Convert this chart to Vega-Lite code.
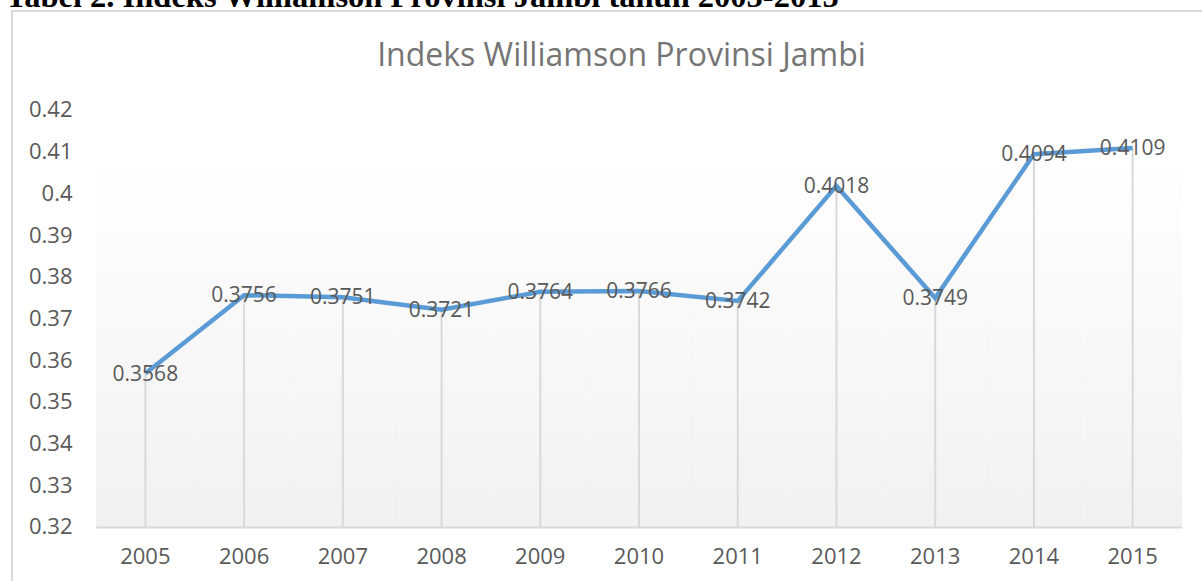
{
  "$schema": "https://vega.github.io/schema/vega-lite/v6.json",
  "width": 1218,
  "height": 600,
  "autosize": {"type": "none"},
  "padding": {"left": 12, "top": 11, "right": 0, "bottom": 0},
  "background": "white",
  "config": {"view": {"stroke": "#D9D9D9", "strokeWidth": 2}},
  "data": {
    "values": [
      {"year": "2005", "value": 0.3568},
      {"year": "2006", "value": 0.3756},
      {"year": "2007", "value": 0.3751},
      {"year": "2008", "value": 0.3721},
      {"year": "2009", "value": 0.3764},
      {"year": "2010", "value": 0.3766},
      {"year": "2011", "value": 0.3742},
      {"year": "2012", "value": 0.4018},
      {"year": "2013", "value": 0.3749},
      {"year": "2014", "value": 0.4094},
      {"year": "2015", "value": 0.4109}
    ]
  },
  "encoding": {
    "x": {
      "field": "year",
      "type": "ordinal",
      "title": "Tabel 2. Indeks Williamson Provinsi Jambi tahun 2005-2015",
      "scale": {"type": "band", "range": [84, 1170], "paddingInner": 0, "paddingOuter": 0},
      "axis": {
        "orient": "bottom",
        "offset": -84,
        "title": "Tabel 2. Indeks Williamson Provinsi Jambi tahun 2005-2015",
        "titleFont": "Liberation Serif",
        "titleFontSize": 32.5,
        "titleFontWeight": "bold",
        "titleColor": "#000000",
        "titleX": -7,
        "titleY": -521,
        "titleAlign": "left",
        "titleAnchor": "start",
        "titleBaseline": "alphabetic",
        "labelAngle": 0,
        "labelPadding": 19,
        "ticks": false,
        "tickSize": 0,
        "grid": false,
        "domainColor": "#D9D9D9",
        "domainWidth": 2,
        "labelFontSize": 22,
        "labelColor": "#595959",
        "labelFont": "Open Sans"
      }
    },
    "y": {
      "field": "value",
      "type": "quantitative",
      "title": "Indeks Williamson Provinsi Jambi",
      "scale": {"domain": [0.299856, 0.443741], "nice": false, "zero": false},
      "axis": {
        "orient": "left",
        "offset": -84,
        "values": [0.32, 0.33, 0.34, 0.35, 0.36, 0.37, 0.38, 0.39, 0.4, 0.41, 0.42],
        "format": ".2~f",
        "grid": false,
        "domain": false,
        "ticks": false,
        "tickSize": 0,
        "labelPadding": 24,
        "labelFontSize": 22,
        "labelColor": "#595959",
        "labelFont": "Open Sans",
        "title": "Indeks Williamson Provinsi Jambi",
        "titleAngle": 0,
        "titleX": 525,
        "titleY": 44,
        "titleAlign": "center",
        "titleBaseline": "middle",
        "titleFontSize": 32,
        "titleFontWeight": "normal",
        "titleColor": "#757575",
        "titleFont": "Open Sans"
      }
    }
  },
  "layer": [
    {
      "mark": {
        "type": "rect",
        "fill": {
          "gradient": "linear",
          "x1": 0, "y1": 0, "x2": 0, "y2": 1,
          "stops": [
            {"offset": 0, "color": "#FFFFFF"},
            {"offset": 0.1, "color": "#FFFFFF"},
            {"offset": 1, "color": "#F1F1F1"}
          ]
        }
      },
      "encoding": {
        "y": {"datum": 0.42, "type": "quantitative", "title": "Indeks Williamson Provinsi Jambi"},
        "y2": {"datum": 0.32}
      }
    },
    {
      "mark": {"type": "rule", "color": "#D9D9D9", "strokeWidth": 2},
      "encoding": {
        "y2": {"datum": 0.32}
      }
    },
    {
      "mark": {"type": "line", "color": "#5B9BD5", "strokeWidth": 4.5},
      "encoding": {}
    },
    {
      "mark": {"type": "text", "fontSize": 21, "color": "#595959", "font": "Open Sans", "align": "center", "baseline": "middle", "dy": 1},
      "encoding": {
        "text": {"field": "value", "type": "quantitative", "format": ".4f"}
      }
    }
  ]
}
